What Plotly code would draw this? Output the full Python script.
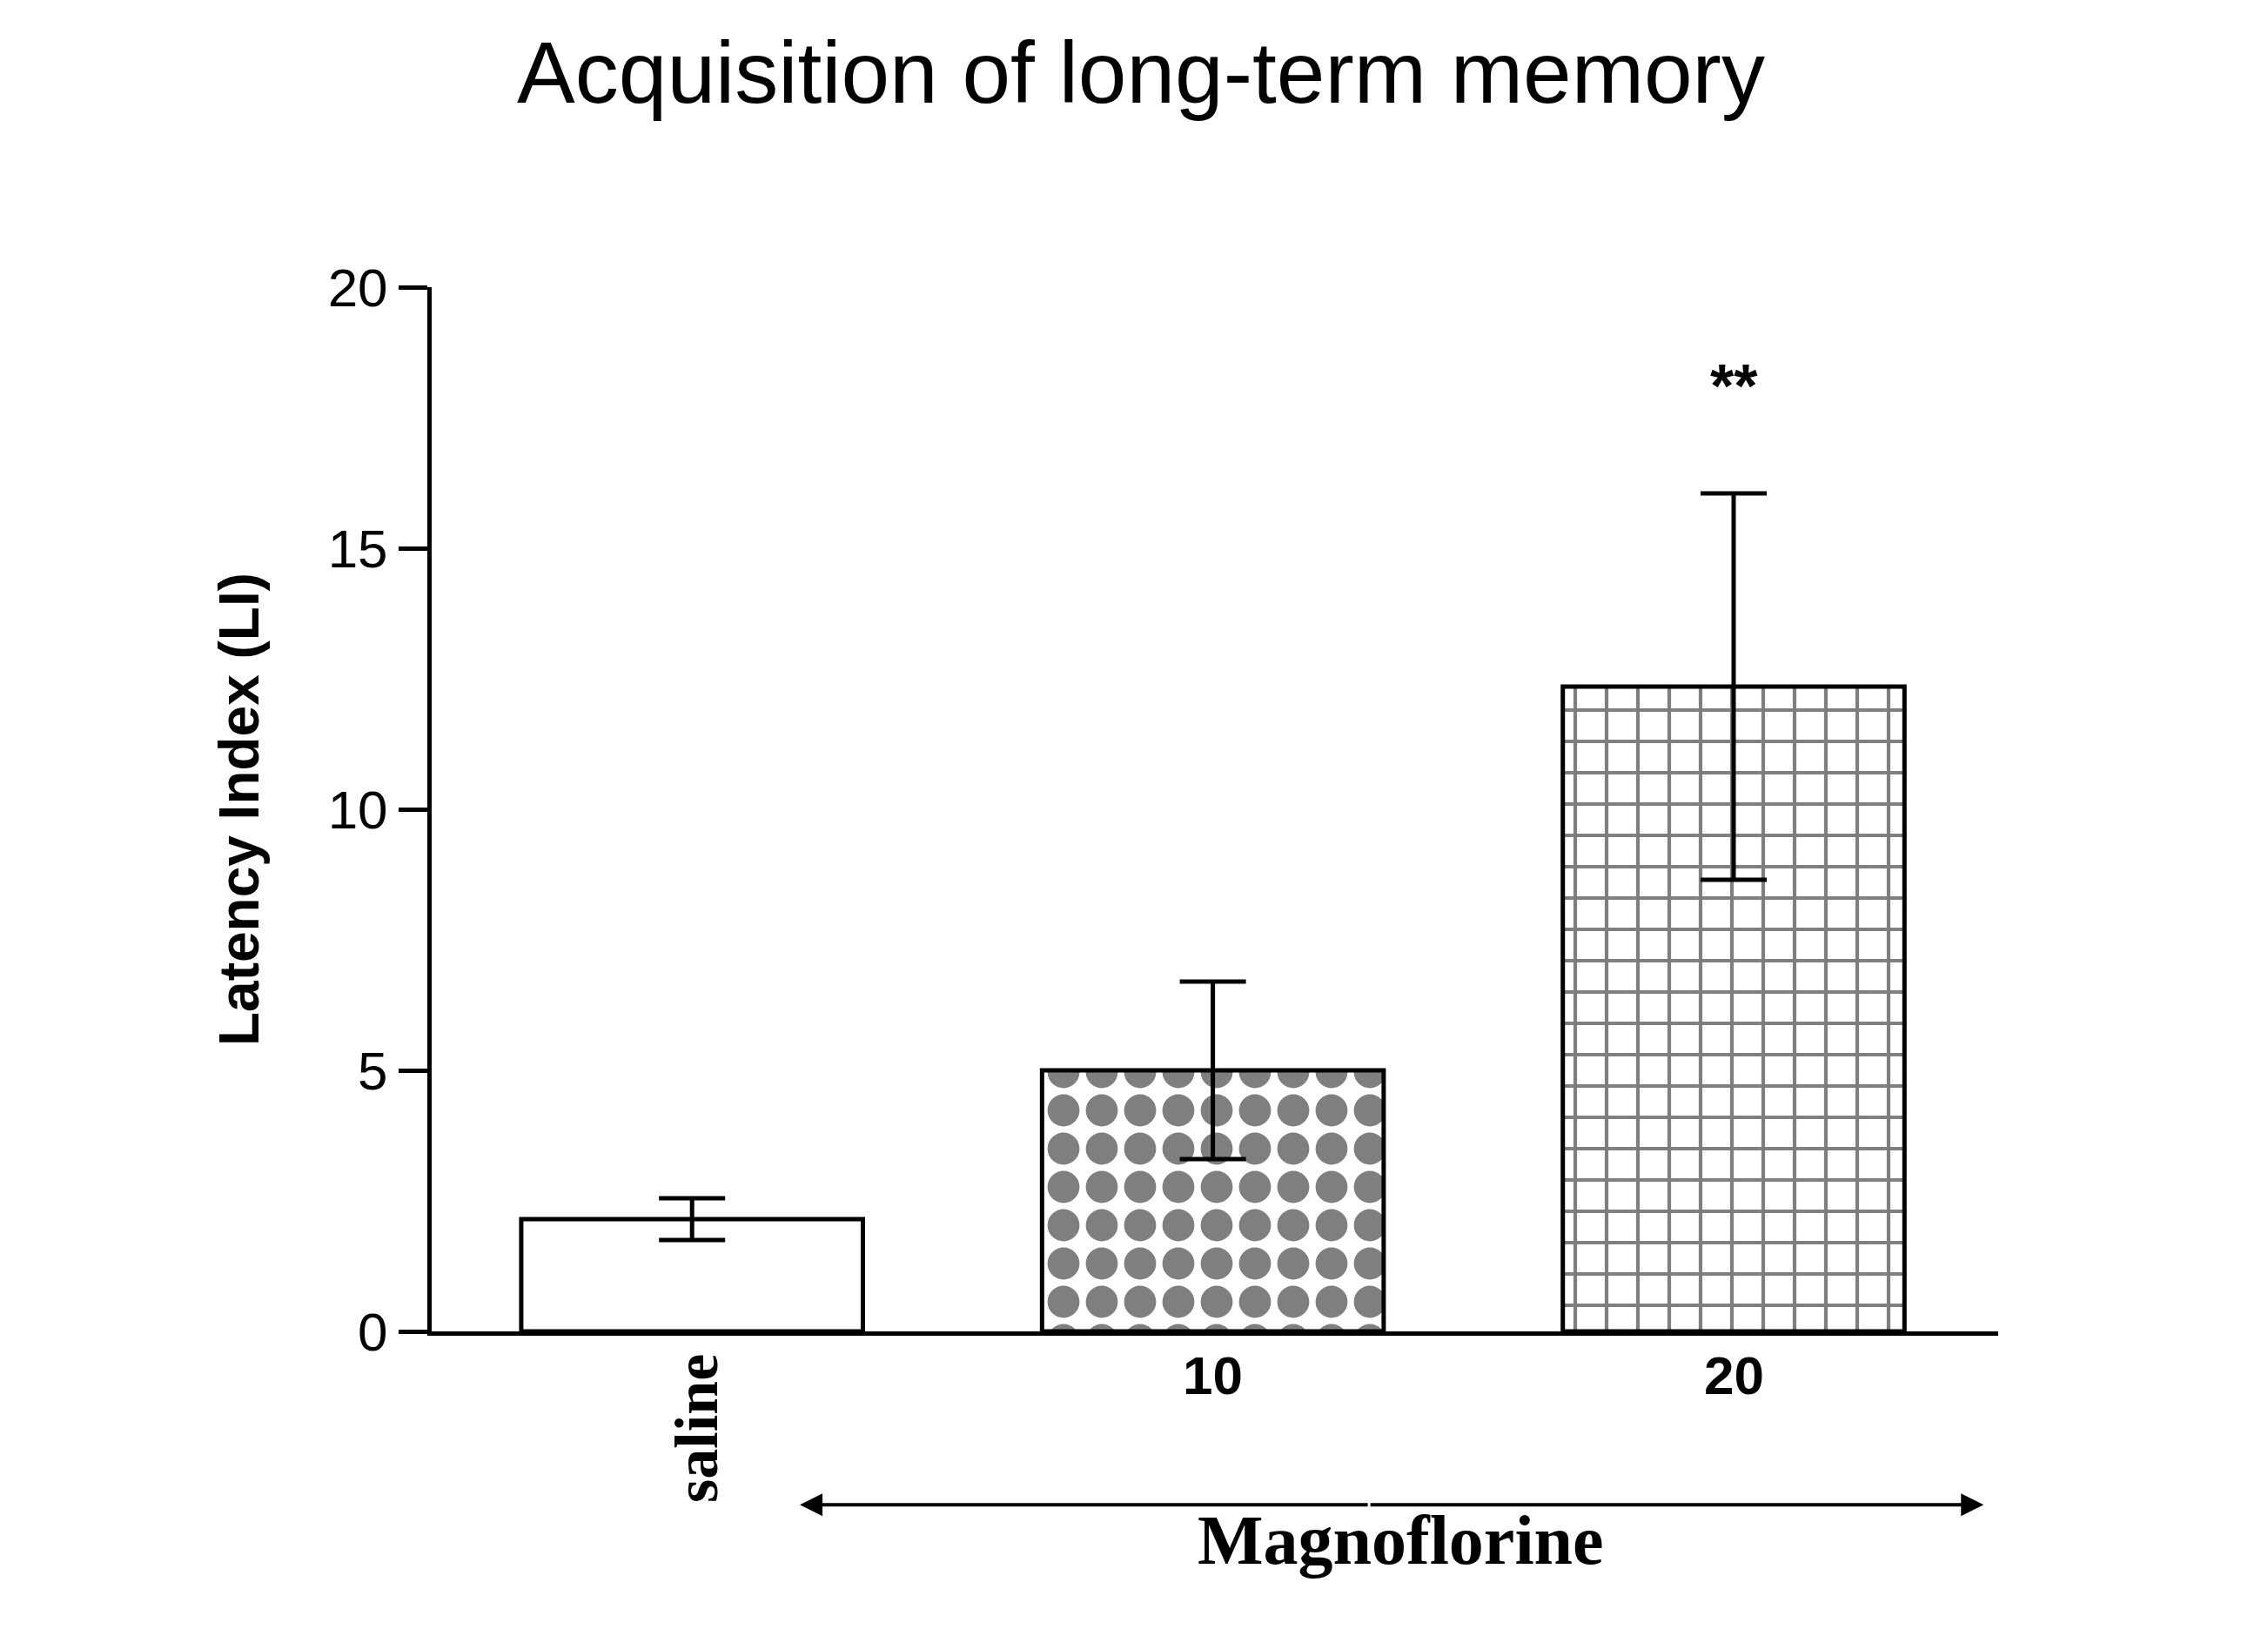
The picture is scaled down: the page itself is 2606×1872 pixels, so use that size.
import plotly.graph_objects as go

groups = ["saline", "10", "20"]
means = [2.15, 5.0, 12.35]
sems = [0.4, 1.7, 3.7]
tick_vals = [0, 5, 10, 15, 20]

xs = [0, 1, 2]
fig = go.Figure()
patterns = [dict(shape=""), dict(shape=".", size=44, solidity=0.55, fgcolor="black", bgcolor="white", fillmode="overlay"),
            dict(shape="+", size=36, solidity=0.22, fgcolor="black", bgcolor="white", fillmode="overlay")]
for i in range(3):
    fig.add_trace(go.Bar(x=[xs[i]], y=[means[i]], width=0.656,
        marker=dict(color="white", line=dict(color="black", width=5), pattern=patterns[i]),
        error_y=dict(type="data", array=[sems[i]], visible=True, color="black", thickness=5, width=38),
        showlegend=False))

ann = []
for i in (1, 2):
    ann.append(dict(x=xs[i], y=-0.0725, xref="x", yref="paper", text="<b>%s</b>" % groups[i], showarrow=False,
                    font=dict(family="Arial", size=62, color="black")))
ann.append(dict(x=2.82, y=-0.0725, xref="x", yref="paper", text="<b>mg/kg</b>", showarrow=False,
                font=dict(family="Arial", size=62, color="black")))
ann.append(dict(x=0.01, y=-0.166, xref="x", yref="paper", text="<b>saline</b>", showarrow=False, textangle=-90,
                font=dict(family="Liberation Serif", size=70, color="black")))
ann.append(dict(x=1.36, y=-0.238, xref="x", yref="paper", text="<b>Magnoflorine</b>", showarrow=False,
                font=dict(family="Liberation Serif", size=80, color="black")))
ann.append(dict(x=2, y=18.1, xref="x", yref="y", text="<b>**</b>", showarrow=False,
                font=dict(family="Arial", size=70, color="black")))
for head, tail in ((0.207, 1.3), (2.48, 1.3)):
    ann.append(dict(x=head, y=-0.166, xref="x", yref="paper", ax=tail, ay=0, axref="x", ayref="pixel",
                    showarrow=True, arrowhead=2, arrowsize=1.3, arrowwidth=4, arrowcolor="black", text=""))

fig.update_layout(
    width=2606, height=1872, plot_bgcolor="white", paper_bgcolor="white",
    margin=dict(l=488, r=318, t=322, b=350),
    title=dict(text="Acquisition of long-term memory", x=0.5, xanchor="center", y=0.96, yanchor="middle",
               font=dict(family="Arial", size=100, color="black")),
    xaxis=dict(range=[-0.5, 2.508], showticklabels=False, ticks="", showline=True, linecolor="black",
               linewidth=5, showgrid=False, zeroline=False),
    yaxis=dict(range=[0, 20], tickvals=tick_vals, ticks="outside", ticklen=33, tickwidth=5, tickcolor="black",
               showline=True, linecolor="black", linewidth=5, showgrid=False, zeroline=False,
               tickfont=dict(family="Arial", size=62, color="black"),
               title=dict(text="<b>Latency Index (LI)</b>", standoff=60,
                          font=dict(family="Arial", size=64, color="black"))),
    annotations=ann,
)
fig.write_html("out.html")
